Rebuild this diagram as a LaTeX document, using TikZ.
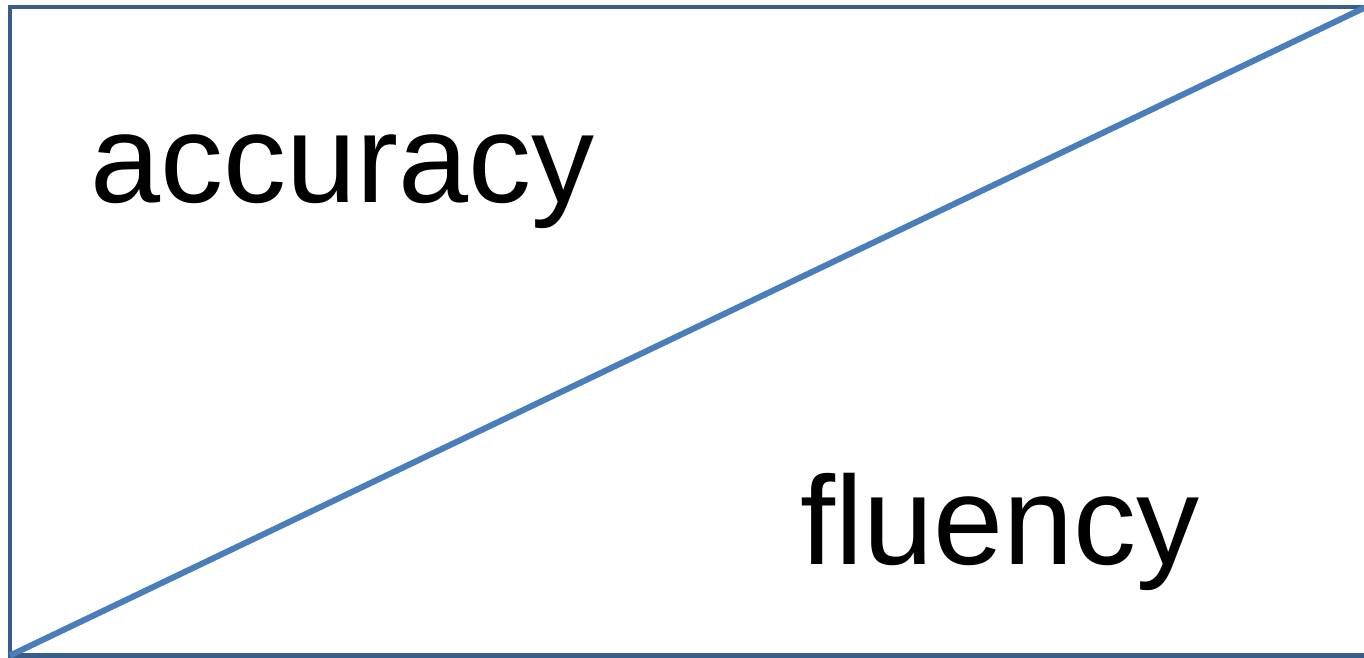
\documentclass[tikz,border=0pt]{standalone}
\usepackage{fontspec}
\setmainfont{Liberation Sans}
\usepackage{xcolor}
\usepackage{tikz}
\usetikzlibrary{positioning}

\definecolor{frameblue}{HTML}{385D8A}
\definecolor{lineblue}{HTML}{4A7EBB}

\begin{document}
\begin{tikzpicture}[
x=1pt,y=1pt,
frame/.style={
draw=frameblue,
line width=4.5pt,
inner sep=0pt,
outer sep=0pt,
minimum width=1356pt,
minimum height=648.5pt
},
word/.style={
anchor=base west,
inner sep=0pt,
font=\fontsize{126}{150}\selectfont
},
diag/.style={draw=lineblue,line width=6pt}
]

\clip (0,0) rectangle (1364,657);

\node[frame] (frame) at (688,325.75) {};

\node[word] (acc) at (90,454) {accuracy};
\node[word] (flu) at (800,93) {fluency};

\draw[diag] (frame.south west) -- (frame.north east);

\end{tikzpicture}
\end{document}
